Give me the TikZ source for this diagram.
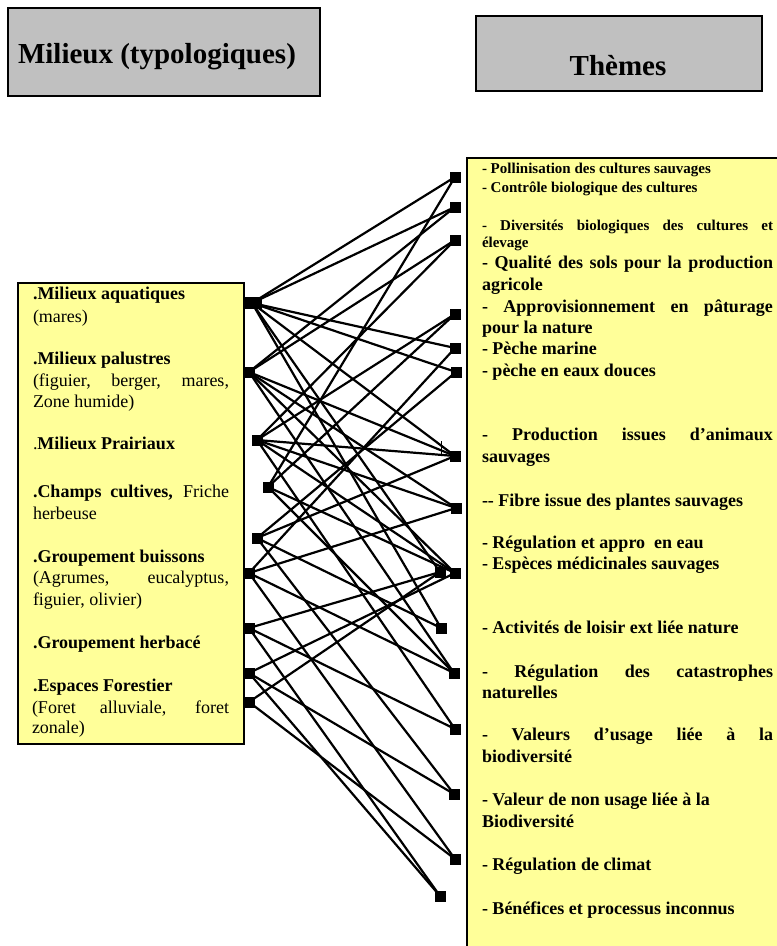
\documentclass[tikz,border=0pt]{standalone}
\usepackage{fontspec}
\setmainfont{Liberation Serif}
\newcommand\myhead{\fontsize{29}{33}\selectfont}
\newcommand\mybody{\fontsize{18}{21.5}\selectfont}
\newcommand\mysmall{\fontsize{15}{17}\selectfont}
\definecolor{paleyellow}{HTML}{FFFF99}
\definecolor{headgray}{HTML}{C0C0C0}
\pgfdeclarelayer{bg}
\pgfdeclarelayer{wires}
\pgfsetlayers{bg,wires,main}
\begin{document}
\begin{tikzpicture}[x=1pt,y=-1pt,
  pin/.style={fill=black,draw=none,minimum width=11pt,minimum height=11pt,inner sep=0pt,outer sep=0pt},
  link/.style={line width=2.2pt},
  txt/.style={anchor=base west,inner sep=0pt,outer sep=0pt},
  headbox/.style={fill=headgray,draw=black,line width=2pt},
  listbox/.style={fill=paleyellow,draw=black,line width=1.8pt}]
\useasboundingbox (0,0) rectangle (777,946);

% ---- frames ----
\begin{pgfonlayer}{bg}
  \draw[headbox] (8,8) rectangle (320,96);
  \draw[headbox] (476,16) rectangle (762,91);
  \draw[listbox] (18,283) rectangle (244,744);
  \draw[listbox] (467,158) rectangle (792,962);
\end{pgfonlayer}

% ---- headings ----
\node[txt] (h1) at (18,63) {\myhead\bfseries Milieux (typologiques)};
\node[anchor=base,inner sep=0pt] (h2) at (618,75) {\myhead\bfseries Thèmes};

% ---- habitats ----
\node[txt] at (33,299) {\mybody\bfseries .Milieux aquatiques};
\node[txt] at (33,322) {\mybody (mares)};
\node[txt] at (33,364) {\mybody\bfseries .Milieux palustres};
\node[txt] at (33,386) {\mybody\makebox[196pt][s]{(figuier, berger, mares,}};
\node[txt] at (33,407) {\mybody Zone humide)};
\node[txt] at (33,449) {\mybody .\textbf{Milieux Prairiaux}};
\node[txt] at (33,497) {\mybody\makebox[196pt][s]{\textbf{.Champs cultives,} Friche}};
\node[txt] at (33,519) {\mybody herbeuse};
\node[txt] at (33,562) {\mybody\bfseries .Groupement buissons};
\node[txt] at (33,583) {\mybody\makebox[196pt][s]{(Agrumes, eucalyptus,}};
\node[txt] at (33,605) {\mybody figuier, olivier)};
\node[txt] at (33,648) {\mybody\bfseries .Groupement herbacé};
\node[txt] at (33,691) {\mybody\bfseries .Espaces Forestier};
\node[txt] at (32,713) {\mybody\makebox[197pt][s]{(Foret alluviale, foret}};
\node[txt] at (32,733) {\mybody zonale)};

% ---- themes ----
\begin{scope}[every node/.append style={font=\bfseries}]
\node[txt] at (482,173) {\mysmall - Pollinisation des cultures sauvages};
\node[txt] at (482,192) {\mysmall - Contrôle biologique des cultures};
\node[txt] at (482,230) {\mysmall\makebox[291pt][s]{- Diversités biologiques des cultures et}};
\node[txt] at (482,247) {\mysmall élevage};
\node[txt] at (482,268) {\mybody\makebox[291pt][s]{- Qualité des sols pour la production}};
\node[txt] at (482,290) {\mybody agricole};
\node[txt] at (482,312) {\mybody\makebox[291pt][s]{- Approvisionnement en pâturage}};
\node[txt] at (482,333) {\mybody pour la nature};
\node[txt] at (482,354) {\mybody - Pèche marine};
\node[txt] at (482,376) {\mybody - pèche en eaux douces};
\node[txt] at (482,440) {\mybody\makebox[291pt][s]{- Production issues d’animaux}};
\node[txt] at (482,462) {\mybody sauvages};
\node[txt] at (482,506) {\mybody -{}- Fibre issue des plantes sauvages};
\node[txt] at (482,548) {\mybody - Régulation et appro\ \ en eau};
\node[txt] at (482,569) {\mybody - Espèces médicinales sauvages};
\node[txt] at (482,633) {\mybody - Activités de loisir ext liée nature};
\node[txt] at (482,677) {\mybody\makebox[291pt][s]{- Régulation des catastrophes}};
\node[txt] at (482,698) {\mybody naturelles};
\node[txt] at (482,740) {\mybody\makebox[291pt][s]{- Valeurs d’usage liée à la}};
\node[txt] at (482,762) {\mybody biodiversité};
\node[txt] at (482,805) {\mybody - Valeur de non usage liée à la};
\node[txt] at (482,827) {\mybody Biodiversité};
\node[txt] at (482,870) {\mybody - Régulation de climat};
\node[txt] at (482,914) {\mybody - Bénéfices et processus inconnus};
\end{scope}

% ---- connection ends, habitat side ----
\node[pin,minimum width=19pt,minimum height=12pt] (l1) at (252,303) {};
\node[pin] (l2) at (249,372) {};
\node[pin] (l3) at (257,440) {};
\node[pin] (l4) at (268,487) {};
\node[pin] (l5) at (257,538) {};
\node[pin] (l6) at (249,573) {};
\node[pin] (l7) at (249,628) {};
\node[pin] (l8) at (249,673) {};
\node[pin] (l9) at (249,702) {};

% ---- connection ends, theme side ----
\node[pin] (r1) at (455,177) {};
\node[pin] (r2) at (455,207) {};
\node[pin] (r3) at (455,240) {};
\node[pin] (r4) at (455,314) {};
\node[pin] (r5) at (455,348) {};
\node[pin] (r6) at (456,372) {};
\node[pin] (r7) at (455,456) {};
\node[pin] (r8) at (456,508) {};
\node[pin] (r9) at (440,572) {};
\node[pin] (r10) at (455,573) {};
\node[pin] (r11) at (441,628) {};
\node[pin] (r12) at (454,673) {};
\node[pin] (r13) at (455,729) {};
\node[pin] (r14) at (454,794) {};
\node[pin] (r15) at (455,859) {};
\node[pin] (r16) at (440,896) {};

% ---- links ----
\begin{pgfonlayer}{wires}
\foreach \a/\b in {
  l1/r1, l1/r2, l1/r5, l1/r6, l1/r7, l1/r9, l1/r11,
  l2/r2, l2/r3, l2/r7, l2/r8, l2/r10, l2/r12,
  l3/r3, l3/r4, l3/r7, l3/r8, l3/r10, l3/r13,
  l4/r1, l4/r4, l4/r10, l4/r12,
  l5/r6, l5/r7, l5/r11, l5/r14,
  l6/r5, l6/r8, l6/r12, l6/r15,
  l7/r9, l7/r13, l7/r16,
  l8/r10, l8/r14, l8/r16,
  l9/r9, l9/r15}
  \draw[link] (\a.center) -- (\b.center);
\coordinate (tka) at (441,441);
\coordinate (tkb) at (441,456);
\draw[line width=0.7pt] (tka) -- (tkb);
\end{pgfonlayer}
\end{tikzpicture}
\end{document}
